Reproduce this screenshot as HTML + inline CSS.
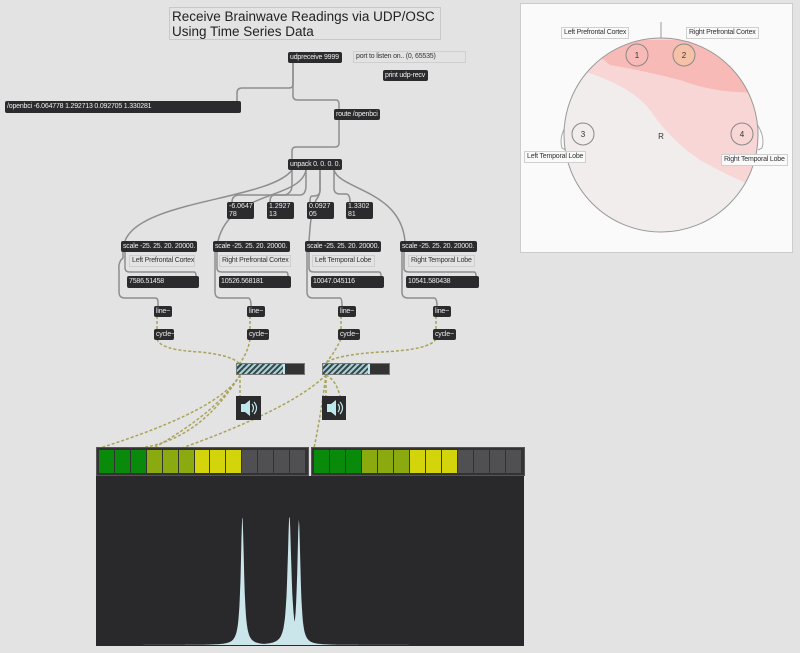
<!DOCTYPE html>
<html><head><meta charset="utf-8">
<style>
body{margin:0;width:800px;height:653px;background:#e3e3e3;position:relative;overflow:hidden;font-family:"Liberation Sans",sans-serif}
.o{position:absolute;background:#2b2b2d;color:#eee;font-size:7px;line-height:11px;height:11px;padding:0 2px;box-sizing:border-box;border-radius:2px;white-space:nowrap;overflow:hidden;letter-spacing:-0.2px}
.c{position:absolute;font-size:7px;line-height:10px;color:#333;border:1px solid #cfcfcf;padding:0 2px;box-sizing:border-box;white-space:nowrap;letter-spacing:-0.2px}
.n{position:absolute;background:#2b2b2d;color:#eee;font-size:7px;line-height:8px;padding:1px 2px;box-sizing:border-box;border-radius:2px}
svg{position:absolute;left:0;top:0}
</style></head><body>
<div style="position:absolute;left:169px;top:7px;width:272px;height:33px;border:1px solid #c9c9c9;box-sizing:border-box;font-size:13.5px;line-height:15px;color:#222;padding:1px 2px;white-space:nowrap">Receive Brainwave Readings via UDP/OSC<br>Using Time Series Data</div>

<svg width="800" height="653">
<g fill="none" stroke="#8e8e8e" stroke-width="1.5">
<path d="M293 63 V84 Q293 88 289 88 H242 Q237 88 237 93 V101"/>
<path d="M293 63 V96 Q293 100 298 100 H336 Q339 100 339 104 V109"/>
<path d="M339 120 V143 Q339 147 335 147 H296 Q292 147 292 151 V159"/>
<path d="M292 170 C270 200 140 200 125 241"/>
<path d="M306 170 C300 200 230 190 218 241"/>
<path d="M320 170 V190 Q320 195 316 200 C310 215 310 230 309 241"/>
<path d="M334 170 C340 190 400 190 405 241"/>
<path d="M306 170 V185 Q306 195 300 195 H240 Q232 195 232 202"/>
<path d="M292 170 V185 Q292 193 285 195 H275 Q270 195 270 202"/>
<path d="M320 170 V190 Q320 196 314 196 H312 Q310 196 310 202"/>
<path d="M334 170 V188 Q334 194 340 194 H346 Q350 194 350 202"/>
<path d="M123 252 V258 Q118 262 119 270 V292 Q119 298 125 298 H155 Q158 298 158 302 V306"/>
<path d="M125 252 V268 Q125 272 130 272 H194 Q196 272 196 276"/>
<path d="M215 252 V292 Q215 298 221 298 H248 Q251 298 251 306"/>
<path d="M217 252 V268 Q217 272 222 272 H286 Q288 272 288 276"/>
<path d="M307 252 V292 Q307 298 313 298 H340 Q342 298 342 306"/>
<path d="M309 252 V268 Q309 272 314 272 H379 Q381 272 381 276"/>
<path d="M402 252 V292 Q402 298 408 298 H434 Q437 298 437 306"/>
<path d="M404 252 V268 Q404 272 409 272 H474 Q476 272 476 276"/>
</g>
<g fill="none" stroke="#a8a45a" stroke-width="1.5" stroke-dasharray="3 2">
<path d="M157 316 V329 M250 316 V329 M341 316 V329 M436 316 V329"/>
<path d="M157 339 Q160 350 200 352 Q230 355 239 363"/>
<path d="M250 339 Q248 352 240 363"/>
<path d="M341 339 Q335 352 326 363"/>
<path d="M436 339 Q430 350 380 352 Q335 355 326 363"/>
<path d="M240 375 V396 M326 375 V396"/>
<path d="M240 375 Q220 410 100 448"/><path d="M240 375 Q210 425 100 475"/><path d="M240 375 Q200 440 140 448"/>
<path d="M326 375 Q280 420 100 475"/><path d="M326 375 Q320 420 314 448"/><path d="M326 375 Q336 380 340 396"/>
</g>
</svg>

<div class="o" style="left:288px;top:52px;width:54px">udpreceive 9999</div>
<div class="c" style="left:353px;top:51px;width:113px">port to listen on.. (0, 65535)</div>
<div class="o" style="left:383px;top:70px;width:45px">print udp-recv</div>
<div class="o" style="left:5px;top:101px;width:236px;height:12px">/openbci -6.064778 1.292713 0.092705 1.330281</div>
<div class="o" style="left:334px;top:109px;width:46px">route /openbci</div>
<div class="o" style="left:288px;top:159px;width:54px">unpack 0. 0. 0. 0.</div>

<div class="n" style="left:227px;top:202px;width:27px;height:17px">-6.0647<br>78</div>
<div class="n" style="left:267px;top:202px;width:27px;height:17px">1.2927<br>13</div>
<div class="n" style="left:307px;top:202px;width:27px;height:17px">0.0927<br>05</div>
<div class="n" style="left:346px;top:202px;width:27px;height:17px">1.3302<br>81</div>

<div class="o" style="left:121px;top:241px;width:76px">scale -25. 25. 20. 20000.</div>
<div class="o" style="left:213px;top:241px;width:77px">scale -25. 25. 20. 20000.</div>
<div class="o" style="left:305px;top:241px;width:76px">scale -25. 25. 20. 20000.</div>
<div class="o" style="left:400px;top:241px;width:77px">scale -25. 25. 20. 20000.</div>
<div class="c" style="left:129px;top:255px;width:66px">Left Prefrontal Cortex</div>
<div class="c" style="left:219px;top:255px;width:72px">Right Prefrontal Cortex</div>
<div class="c" style="left:312px;top:255px;width:63px">Left Temporal Lobe</div>
<div class="c" style="left:408px;top:255px;width:67px">Right Temporal Lobe</div>
<div class="o" style="left:127px;top:276px;width:72px;height:12px">7586.51458</div>
<div class="o" style="left:219px;top:276px;width:72px;height:12px">10526.568181</div>
<div class="o" style="left:311px;top:276px;width:73px;height:12px">10047.045116</div>
<div class="o" style="left:406px;top:276px;width:73px;height:12px">10541.580438</div>
<div class="o" style="left:154px;top:306px;width:18px">line~</div>
<div class="o" style="left:247px;top:306px;width:18px">line~</div>
<div class="o" style="left:338px;top:306px;width:18px">line~</div>
<div class="o" style="left:433px;top:306px;width:18px">line~</div>
<div class="o" style="left:154px;top:329px;width:20px">cycle~</div>
<div class="o" style="left:247px;top:329px;width:22px">cycle~</div>
<div class="o" style="left:338px;top:329px;width:22px">cycle~</div>
<div class="o" style="left:433px;top:329px;width:23px">cycle~</div>

<div style="position:absolute;left:236px;top:363px;width:69px;height:12px;background:#333;border:1px solid #777;box-sizing:border-box"><div style="width:46px;height:100%;background:repeating-linear-gradient(135deg,#a8d0d4 0 2px,#3a4a4c 2px 4px);border-right:2px solid #bfe8ec"></div></div>
<div style="position:absolute;left:322px;top:363px;width:68px;height:12px;background:#333;border:1px solid #777;box-sizing:border-box"><div style="width:45px;height:100%;background:repeating-linear-gradient(135deg,#a8d0d4 0 2px,#3a4a4c 2px 4px);border-right:2px solid #bfe8ec"></div></div>
<svg width="800" height="653">
<g><rect x="236" y="396" width="25" height="24" fill="#2b2b2d"/><path d="M241 404 h4 l5 -4 v16 l-5 -4 h-4 z" fill="#bfe8ec"/><path d="M252 404 q3 4 0 8 M254 402 q5 6 0 12" fill="none" stroke="#bfe8ec" stroke-width="1.2"/></g>
<g><rect x="322" y="396" width="24" height="24" fill="#2b2b2d"/><path d="M327 404 h4 l5 -4 v16 l-5 -4 h-4 z" fill="#bfe8ec"/><path d="M338 404 q3 4 0 8 M340 402 q5 6 0 12" fill="none" stroke="#bfe8ec" stroke-width="1.2"/></g>
</svg>

<div id="m1" style="position:absolute;left:96px;top:447px;width:213px;height:29px;background:#333;border:1px solid #555;box-sizing:border-box;display:flex;padding:2px"></div>
<div id="m2" style="position:absolute;left:311px;top:447px;width:214px;height:29px;background:#333;border:1px solid #555;box-sizing:border-box;display:flex;padding:2px"></div>

<svg id="spec" width="800" height="653">
<rect x="96" y="476" width="428" height="170" fill="#29292c"/>
</svg>

<div style="position:absolute;left:520px;top:3px;width:273px;height:250px;background:#fafafa;border:1px solid #ccc;box-sizing:border-box"></div>
<svg width="800" height="653">
<defs><clipPath id="hc"><circle cx="661" cy="135" r="97"/></clipPath></defs>
<line x1="661" y1="22" x2="661" y2="38" stroke="#999"/>
<path d="M570 120 Q558 135 562 148 L566 150" fill="none" stroke="#aaa"/>
<path d="M754 120 Q766 135 762 148 L758 150" fill="none" stroke="#aaa"/>
<g clip-path="url(#hc)"><rect x="560" y="35" width="205" height="200" fill="#f1eded"/>
<path d="M560 35 H765 V190 Q735 180 700 160 Q670 140 650 110 Q630 85 580 70 L560 72 Z" fill="#f8d6d6"/>
<path d="M580 40 H765 V92 Q720 95 680 80 Q640 70 610 65 Z" fill="#f8bab7"/></g>
<circle cx="661" cy="135" r="97" fill="none" stroke="#999"/>
<g fill="none" stroke="#888"><circle cx="637" cy="55" r="11"/><circle cx="684" cy="55" r="11" fill="#f5c2a8"/><circle cx="583" cy="134" r="11"/><circle cx="742" cy="134" r="11"/></g>
<g font-size="8" fill="#333" text-anchor="middle" font-family="Liberation Sans"><text x="637" y="58">1</text><text x="684" y="58">2</text><text x="583" y="137">3</text><text x="742" y="137">4</text><text x="661" y="139">R</text></g>
</svg>
<div class="c" style="left:561px;top:27px;background:#fafafa">Left Prefrontal Cortex</div>
<div class="c" style="left:686px;top:27px;background:#fafafa">Right Prefrontal Cortex</div>
<div class="c" style="left:524px;top:151px;background:#fafafa">Left Temporal Lobe</div>
<div class="c" style="left:721px;top:154px;background:#fafafa">Right Temporal Lobe</div>

<script>
const meterColors = ["#0a8a0a","#0a8a0a","#0a8a0a","#8aaa10","#8aaa10","#8aaa10","#d4d40c","#d4d40c","#d4d40c","#505052","#505052","#505052","#505052"];
const meterLevels = [9, 9];
const peakFreqs = [0.342, 0.452, 0.474];
const peakAmps = [0.76, 0.76, 0.74];
const peakWidths = [0.005, 0.006, 0.005];
['m1','m2'].forEach((id,mi)=>{
  const m=document.getElementById(id);
  meterColors.forEach((c,i)=>{
    const s=document.createElement('div');
    
    
    s.style.cssText='flex:1;margin-right:1px;background:'+(i<meterLevels[mi]?c:'#505052');
    m.appendChild(s);
  });
});
const sx0=96, sw=428, sy0=645, sh=170;
const X=f=>sx0+f*sw, Y=a=>sy0-a*sh;
let d='M'+X(0)+' '+Y(0);
for(let i=0;i<=800;i++){
  const f=i/800; let a=0;
  peakFreqs.forEach((p,k)=>{const u=(f-p)/peakWidths[k]; a=Math.max(a, peakAmps[k]/(1+u*u*1.2));});
  d+=' L'+X(f).toFixed(1)+' '+Y(a).toFixed(1);
}
d+=' L'+X(1)+' '+Y(0)+' Z';
const p=document.createElementNS('http://www.w3.org/2000/svg','path');
p.setAttribute('d',d);p.setAttribute('fill','#cbe6ea');


document.getElementById('spec').appendChild(p);
</script>
</body></html>
